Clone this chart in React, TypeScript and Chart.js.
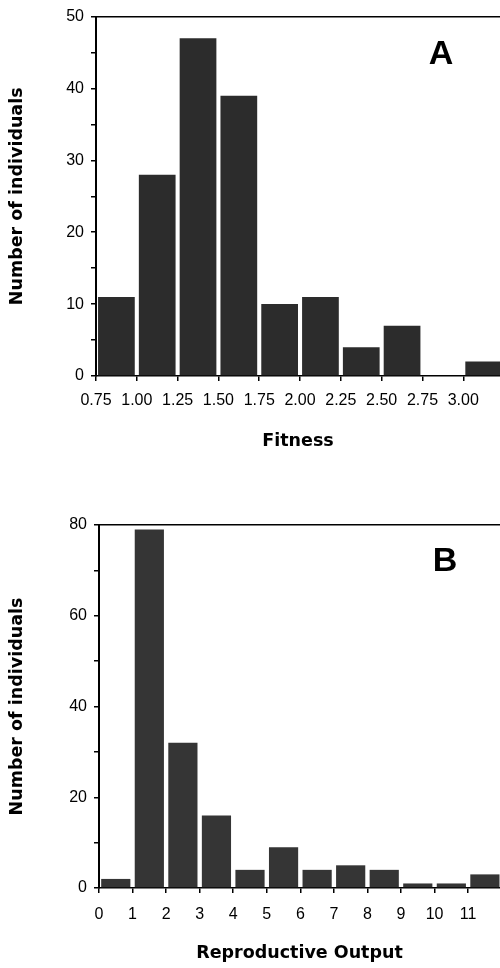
import React, { useEffect, useRef } from 'react';
import { Chart, registerables } from 'chart.js';

Chart.register(...registerables);

// Panel A: Fitness histogram
const fitnessBinStarts = [0.75, 1.0, 1.25, 1.5, 1.75, 2.0, 2.25, 2.5, 2.75, 3.0];
const fitnessCounts = [11, 28, 47, 39, 10, 11, 4, 7, 0, 2];
const fitnessTicks = [0.75, 1.0, 1.25, 1.5, 1.75, 2.0, 2.25, 2.5, 2.75, 3.0];
const fitnessBinWidth = 0.25;

// Panel B: Reproductive output histogram
const outputBinStarts = [0, 1, 2, 3, 4, 5, 6, 7, 8, 9, 10, 11];
const outputCounts = [2, 79, 32, 16, 4, 9, 4, 5, 4, 1, 1, 3];
const outputTicks = [0, 1, 2, 3, 4, 5, 6, 7, 8, 9, 10, 11];
const outputBinWidth = 1;

const TICK_FONT = { family: '"Liberation Sans", Arial, sans-serif', size: 16 };
const TITLE_FONT = { family: '"DejaVu Sans", sans-serif', size: 17.5, weight: 'bold' as const };

type PanelSpec = {
  starts: number[];
  counts: number[];
  ticks: number[];
  binWidth: number;
  xMin: number;
  xMax: number;
  yMax: number;
  yStep: number;
  yLabelEvery: number;
  xTitle: string;
  letter: string;
  letterDx: number;
  letterDy: number;
  padTop: number;
  yAxisWidth: number;
  xAxisHeight: number;
  xTitlePadBottom: number;
  xTickPadding: number;
  barPct: number;
  decimals: number;
  color: string;
};

function makeChart(canvas: HTMLCanvasElement, s: PanelSpec) {
  const letterPlugin = {
    id: 'panelLetter',
    afterDraw(chart: any) {
      const { ctx, chartArea } = chart;
      ctx.save();
      ctx.font = 'bold 34px "Liberation Sans", Arial, sans-serif';
      ctx.fillStyle = '#000';
      ctx.textAlign = 'center';
      ctx.textBaseline = 'alphabetic';
      ctx.fillText(s.letter, chartArea.right - s.letterDx, chartArea.top + s.letterDy);
      ctx.restore();
    },
  };
  return new Chart(canvas, {
    type: 'bar',
    data: {
      datasets: [
        {
          data: s.starts.map((x, i) => ({ x: x + s.binWidth / 2, y: s.counts[i] })),
          backgroundColor: s.color,
          borderWidth: 0,
          barPercentage: s.barPct,
          categoryPercentage: 1,
        },
      ],
    },
    options: {
      animation: false,
      responsive: false,
      devicePixelRatio: 1,
      layout: { padding: { top: s.padTop, left: 0, right: 0, bottom: 0 } },
      plugins: { legend: { display: false }, tooltip: { enabled: false } },
      scales: {
        x: {
          type: 'linear',
          position: 'bottom',
          offset: false,
          min: s.xMin,
          max: s.xMax,
          afterBuildTicks: (axis: any) => {
            axis.ticks = s.ticks.map((v) => ({ value: v }));
          },
          afterFit: (axis: any) => {
            axis.height = s.xAxisHeight;
          },
          grid: { drawOnChartArea: false, drawTicks: true, tickLength: 5, color: '#000', lineWidth: 1.5, offset: false },
          border: { display: true, color: '#000', width: 1.5 },
          ticks: {
            color: '#000',
            font: TICK_FONT,
            padding: s.xTickPadding,
            maxRotation: 0,
            autoSkip: false,
            callback: (v: any) => Number(v).toFixed(s.decimals),
          },
          title: {
            display: true,
            text: s.xTitle,
            color: '#000',
            font: TITLE_FONT,
            padding: { top: 0, bottom: s.xTitlePadBottom },
          },
        },
        xTop: {
          type: 'linear',
          position: 'top',
          offset: false,
          min: s.xMin,
          max: s.xMax,
          afterFit: (axis: any) => {
            axis.height = 0;
          },
          grid: { display: false, drawTicks: false },
          border: { display: true, color: '#000', width: 1.5 },
          ticks: { display: false },
        },
        y: {
          type: 'linear',
          position: 'left',
          min: 0,
          max: s.yMax,
          afterFit: (axis: any) => {
            axis.width = s.yAxisWidth;
          },
          grid: { drawOnChartArea: false, drawTicks: true, tickLength: 5, color: '#000', lineWidth: 1.5 },
          border: { display: true, color: '#000', width: 2 },
          ticks: {
            stepSize: s.yStep,
            color: '#000',
            font: TICK_FONT,
            padding: 7,
            autoSkip: false,
            callback: (v: any) => (Number(v) % s.yLabelEvery === 0 ? String(v) : ''),
          },
          title: {
            display: true,
            text: 'Number of individuals',
            color: '#000',
            font: TITLE_FONT,
            padding: { top: 7, bottom: 0 },
          },
        },
      },
    },
    plugins: [letterPlugin],
  } as any);
}

const panelA: PanelSpec = {
  starts: fitnessBinStarts,
  counts: fitnessCounts,
  ticks: fitnessTicks,
  binWidth: fitnessBinWidth,
  xMin: 0.75,
  xMax: 3.225,
  yMax: 50,
  yStep: 5,
  yLabelEvery: 10,
  xTitle: 'Fitness',
  letter: 'A',
  letterDx: 59,
  letterDy: 47,
  padTop: 13,
  yAxisWidth: 96,
  xAxisHeight: 108,
  xTitlePadBottom: 32,
  xTickPadding: 10,
  barPct: 0.9,
  decimals: 2,
  color: '#2c2c2c',
};

const panelB: PanelSpec = {
  starts: outputBinStarts,
  counts: outputCounts,
  ticks: outputTicks,
  binWidth: outputBinWidth,
  xMin: 0,
  xMax: 11.95,
  yMax: 80,
  yStep: 10,
  yLabelEvery: 20,
  xTitle: 'Reproductive Output',
  letter: 'B',
  letterDx: 55,
  letterDy: 46,
  padTop: 41,
  yAxisWidth: 99,
  xAxisHeight: 80,
  xTitlePadBottom: 4,
  xTickPadding: 12,
  barPct: 0.87,
  decimals: 0,
  color: '#353535',
};

function Panel({ spec }: { spec: PanelSpec }) {
  const ref = useRef<HTMLCanvasElement | null>(null);
  useEffect(() => {
    if (!ref.current) return;
    const chart = makeChart(ref.current, spec);
    return () => chart.destroy();
  }, [spec]);
  return <canvas ref={ref} width={500} height={484} style={{ display: 'block', width: 500, height: 484 }} />;
}

export default function App() {
  return (
    <div style={{ position: 'absolute', left: 0, top: 0, width: 500, height: 968, background: '#fff', overflow: 'hidden' }}>
      <Panel spec={panelA} />
      <Panel spec={panelB} />
    </div>
  );
}
